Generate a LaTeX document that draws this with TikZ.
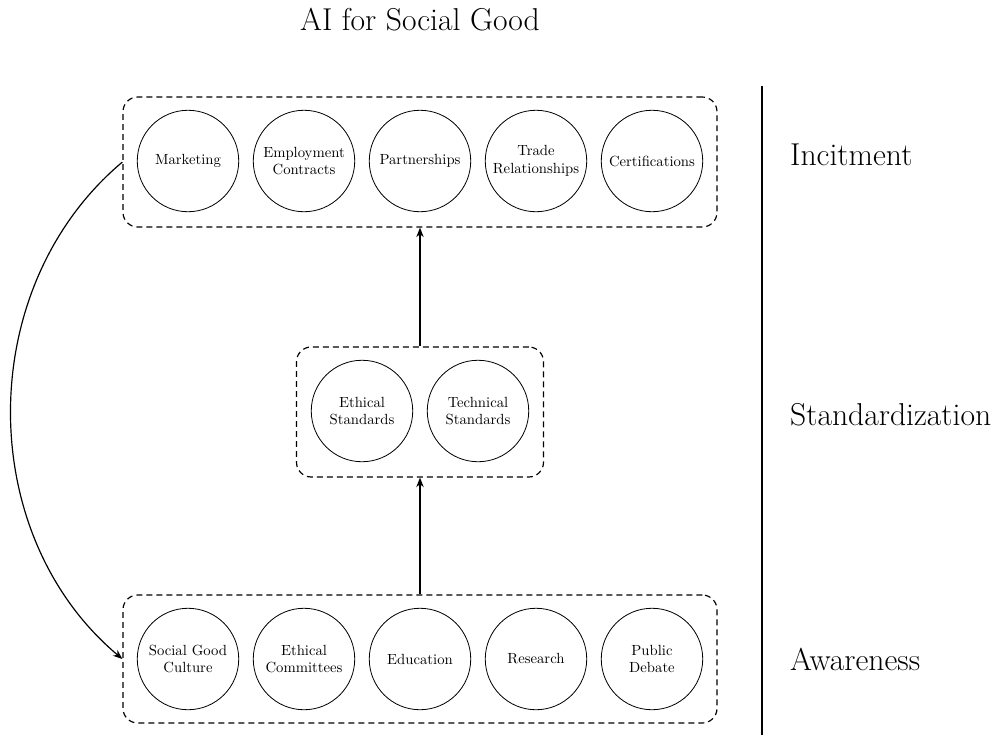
\documentclass[tikz,border=0pt]{standalone}
\usetikzlibrary{arrows.meta}
\begin{document}
\begin{tikzpicture}[x=0.68pt,y=-0.68pt,
  item/.style={circle,draw,line width=0.55pt,minimum size=69pt,inner sep=0pt,align=center,font=\normalsize},
  group/.style={draw,dash pattern=on 4pt off 2.8pt,line width=0.8pt,rounded corners=10pt},
  flow/.style={-{Stealth[length=6.5pt,width=5pt]},line width=0.8pt},
  level/.style={anchor=west,font=\fontsize{21.5}{26}\selectfont}]
\useasboundingbox (0,0) rectangle (998,735);
\node[font=\fontsize{21.5}{26}\selectfont] (title) at (420,20) {AI for Social Good};
% top row
\node[item] (m) at (188,161) {Marketing};
\node[item] (ec) at (304,161) {Employment\\Contracts};
\node[item] (p) at (420,161) {Partnerships};
\node[item] (tr) at (536,161) {Trade\\Relationships};
\node[item] (c) at (652,161) {Certifications};
% middle
\node[item] (es) at (362,411) {Ethical\\Standards};
\node[item] (ts) at (478,411) {Technical\\Standards};
% bottom
\node[item] (sg) at (188,659) {Social Good\\Culture};
\node[item] (ecm) at (304,659) {Ethical\\Committees};
\node[item] (ed) at (420,659) {Education};
\node[item] (r) at (536,659) {Research};
\node[item] (pd) at (652,659) {Public\\Debate};
% groups
\node[group,minimum width=594*0.68pt,minimum height=130*0.68pt] (top) at (420,162) {};
\node[group,minimum width=247*0.68pt,minimum height=130*0.68pt] (mid) at (420,412) {};
\node[group,minimum width=594*0.68pt,minimum height=128*0.68pt] (bot) at (420,659) {};
% arrows
\draw[flow] (mid.north) -- (top.south);
\draw[flow] (bot.north) -- (mid.south);
\draw[flow] (top.west) to[bend right=50] (bot.west);
% separator
\coordinate (s1) at (762,86);
\coordinate (s2) at (762,735);
\draw[line width=0.8pt] (s1) -- (s2);
\node[level] (l1) at (785,155) {Incitment};
\node[level] (l2) at (785,415) {Standardization};
\node[level] (l3) at (785,659) {Awareness};
\end{tikzpicture}
\end{document}
